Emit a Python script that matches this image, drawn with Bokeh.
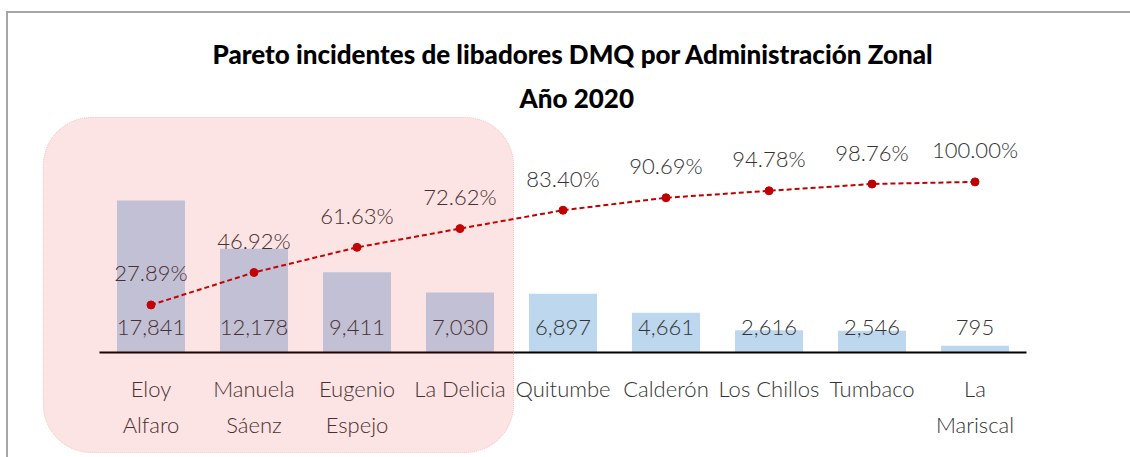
from bokeh.plotting import figure
from bokeh.models import ColumnDataSource, FactorRange, Range1d, LabelSet, BoxAnnotation, Title
from bokeh.core.properties import value
from bokeh.embed import file_html
from bokeh.resources import INLINE

# ---- data ----
categories = ["Eloy\nAlfaro", "Manuela\nSáenz", "Eugenio\nEspejo", "La Delicia", "Quitumbe",
              "Calderón", "Los Chillos", "Tumbaco", "La\nMariscal"]
incidents = [17841, 12178, 9411, 7030, 6897, 4661, 2616, 2546, 795]
cumulative_pct = [27.89, 46.92, 61.63, 72.62, 83.40, 90.69, 94.78, 98.76, 100.00]
highlighted = 4  # first categories inside the highlight box

title_line1 = "Pareto incidentes de libadores DMQ por Administración Zonal"
title_line2 = "Año 2020"

LABEL_FONT = "Lato Light"
TITLE_FONT = "Lato Black"
TEXT_COLOR = "#333333"

src = ColumnDataSource(dict(
    cat=categories,
    val=incidents,
    zero=[0] * len(categories),
    pct=cumulative_pct,
    val_lbl=[f"{v:,}" for v in incidents],
    pct_lbl=[f"{c:.2f}%" for c in cumulative_pct],
))

W, H = 1122, 444
p = figure(x_range=FactorRange(*categories, range_padding=0.1963),
           y_range=Range1d(-12324, 27817),
           width=W, height=H, output_backend="svg", toolbar_location=None,
           title=None, y_axis_location=None,
           min_border_left=0, min_border_right=13, min_border_top=102, min_border_bottom=0,
           outline_line_color=None, background_fill_color="white", border_fill_color="white")
p.extra_y_ranges = {"pct": Range1d(-61.5, 138.9)}
# chart-area border (only its top and left edges fall inside the window)
p.styles = {"outline": "2px solid #A6A6A6", "transform": "translate(8px, 13px)"}

p.vbar(x="cat", top="val", width=0.66, source=src, fill_color="#BDD7EE", line_color=None)
p.line(x="cat", y="pct", source=src, y_range_name="pct", line_color="#C00000",
       line_width=2, line_dash="5 3")
p.scatter(x="cat", y="pct", source=src, y_range_name="pct", marker="circle", size=8,
          fill_color="#C00000", line_color="#C00000")

p.add_layout(LabelSet(x="cat", y="pct", text="pct_lbl", source=src, y_range_name="pct",
                      y_offset=32, text_align="center", text_baseline="middle",
                      text_font=value(LABEL_FONT), text_font_size=value("22px"),
                      text_color=TEXT_COLOR))
p.add_layout(LabelSet(x="cat", y="zero", text="val_lbl", source=src,
                      y_offset=25, text_align="center", text_baseline="middle",
                      text_font=value(LABEL_FONT), text_font_size=value("22px"),
                      text_color=TEXT_COLOR))

# x axis drawn at y = 0 inside the frame
p.xaxis.fixed_location = 0
p.xaxis.bounds = (0, len(categories))
p.xaxis.axis_line_color = "black"
p.xaxis.axis_line_width = 2
p.xaxis.major_tick_line_color = None
p.xaxis.minor_tick_line_color = None
p.xaxis.major_label_text_font = LABEL_FONT
p.xaxis.major_label_text_font_size = "22px"
p.xaxis.major_label_text_color = TEXT_COLOR
p.xaxis.major_label_standoff = 17
p.xaxis.major_label_text_line_height = 1.3
p.xgrid.grid_line_color = None
p.ygrid.grid_line_color = None

# highlight box over the leading categories (semi-transparent, on top of bars)
p.add_layout(BoxAnnotation(left=-0.545, right=highlighted + 0.02, top=27580, bottom=-11737,
                           border_radius=48, fill_color="#E61E1E", fill_alpha=0.12,
                           line_color="#F08080", line_alpha=0.45, line_width=1,
                           line_dash="1 1"))

p.add_layout(Title(text=title_line2, align="left", offset=511, standoff=4,
                   text_font=TITLE_FONT, text_font_style="normal", text_font_size="26px",
                   text_color="black"), "above")
p.add_layout(Title(text=title_line1, align="left", offset=204, standoff=15,
                   text_font=TITLE_FONT, text_font_style="normal", text_font_size="26px",
                   text_color="black"), "above")

html = file_html(p, INLINE)
html = html.replace("</head>", "<style>html, body { overflow: hidden; }</style></head>", 1)
open("out.html", "w").write(html)
